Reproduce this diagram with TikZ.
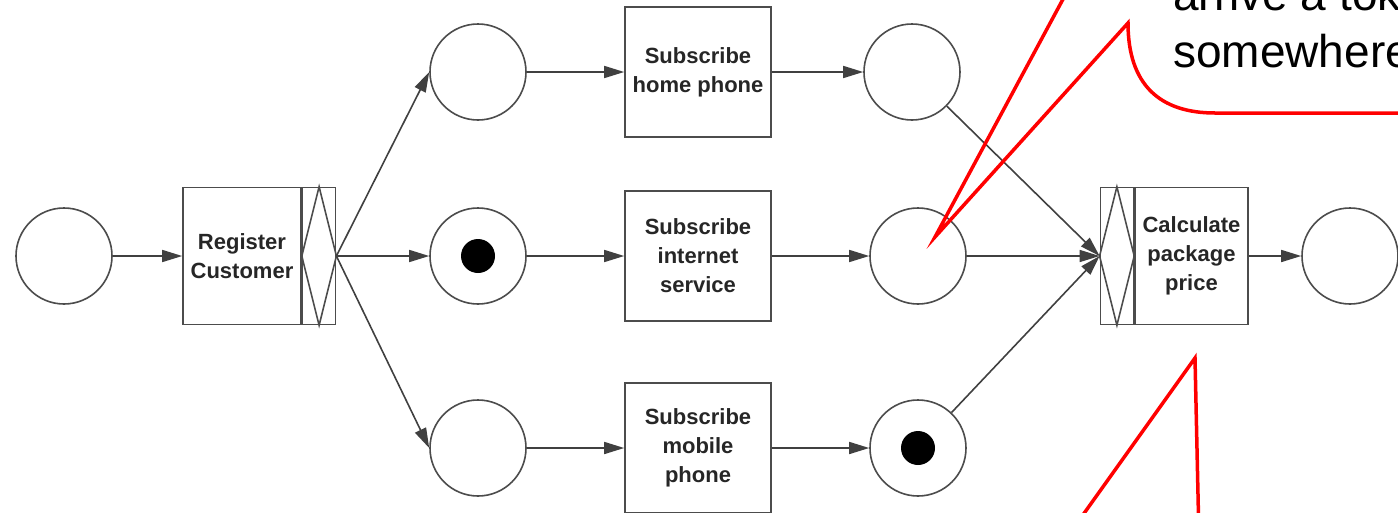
\documentclass[tikz,border=0pt]{standalone}
\usepackage{fontspec}
\setmainfont{Liberation Sans}
\usetikzlibrary{arrows.meta}

\tikzset{
  place/.style={circle,draw=black!70,line width=1.6pt,minimum size=96pt,inner sep=0pt},
  token/.style={circle,fill=black,minimum size=34pt,inner sep=0pt},
  trans/.style={rectangle,draw=black!70,line width=1.6pt,minimum height=137pt,inner sep=0pt,
    align=center,text=black!85,font=\fontsize{22}{29}\selectfont\bfseries},
  joinbar/.style={rectangle,draw=black!70,line width=1.6pt,minimum width=33pt,minimum height=137pt,inner sep=0pt},
  flow/.style={->,draw=black!75,line width=1.6pt},
  callout/.style={draw=red,line width=3.5pt},
}

\begin{document}
\begin{tikzpicture}[x=1pt,y=-1pt,>={Triangle[length=20pt,width=12pt]}]
    \useasboundingbox (0,0) rectangle (1398,512);
    \clip (0,0) rectangle (1398,512);

    % places and tokens
    \foreach \n/\x/\y in {p0/64/256,pa/478/72,pb/478/256,pc/478/448,qa/912/72,qb/918/256,qc/918/448,pe/1350/256}
      \node[place] (\n) at (\x,\y) {};
    \node[token] (tb) at (pb) {};
    \node[token] (tc) at (qc) {};

    % transitions
    \node[trans,minimum width=118pt] (reg) at (242,256) {Register\\Customer};
    \node[joinbar,anchor=west] (regx) at (reg.east) {};
    \draw[black!70,line width=1.6pt] (regx.north) -- (regx.east) -- (regx.south) -- (regx.west) -- cycle;

    \foreach \n/\y/\t in {ha/72/Subscribe\\home phone,hb/256/Subscribe\\internet\\service,hc/448/Subscribe\\mobile\\phone}
      \node[trans,minimum width=146pt,minimum height=130pt] (\n) at (698,\y) {\t};

    \node[trans,minimum width=113pt] (calc) at (1191.5,256) {Calculate\\package\\price};
    \node[joinbar,anchor=east] (calcx) at (calc.west) {};
    \draw[black!70,line width=1.6pt] (calcx.north) -- (calcx.east) -- (calcx.south) -- (calcx.west) -- cycle;

    % arcs
    \draw[flow] (p0) -- (reg);
    \foreach \a/\b/\c in {pa/ha/qa,pb/hb/qb,pc/hc/qc} {
      \draw[flow] (regx.east) -- (\a.west);
      \draw[flow] (\a) -- (\b);
      \draw[flow] (\b) -- (\c);
      \draw[flow] (\c) -- (calcx.west);
    }
    \draw[flow] (calc) -- (pe);

    % callouts
    \draw[callout] (1076,-25) -- (935,237) -- (1128,23) .. controls (1128,85) and (1160,113) .. (1215,113) -- (1420,113);
    \node[font=\fontsize{46}{57}\selectfont,anchor=base west,align=left,inner sep=0pt] (note) at (1173,67) {arrive a token\\somewhere};
    \draw[callout] (1065,540) -- (1195,358) -- (1199,540);
\end{tikzpicture}
\end{document}
